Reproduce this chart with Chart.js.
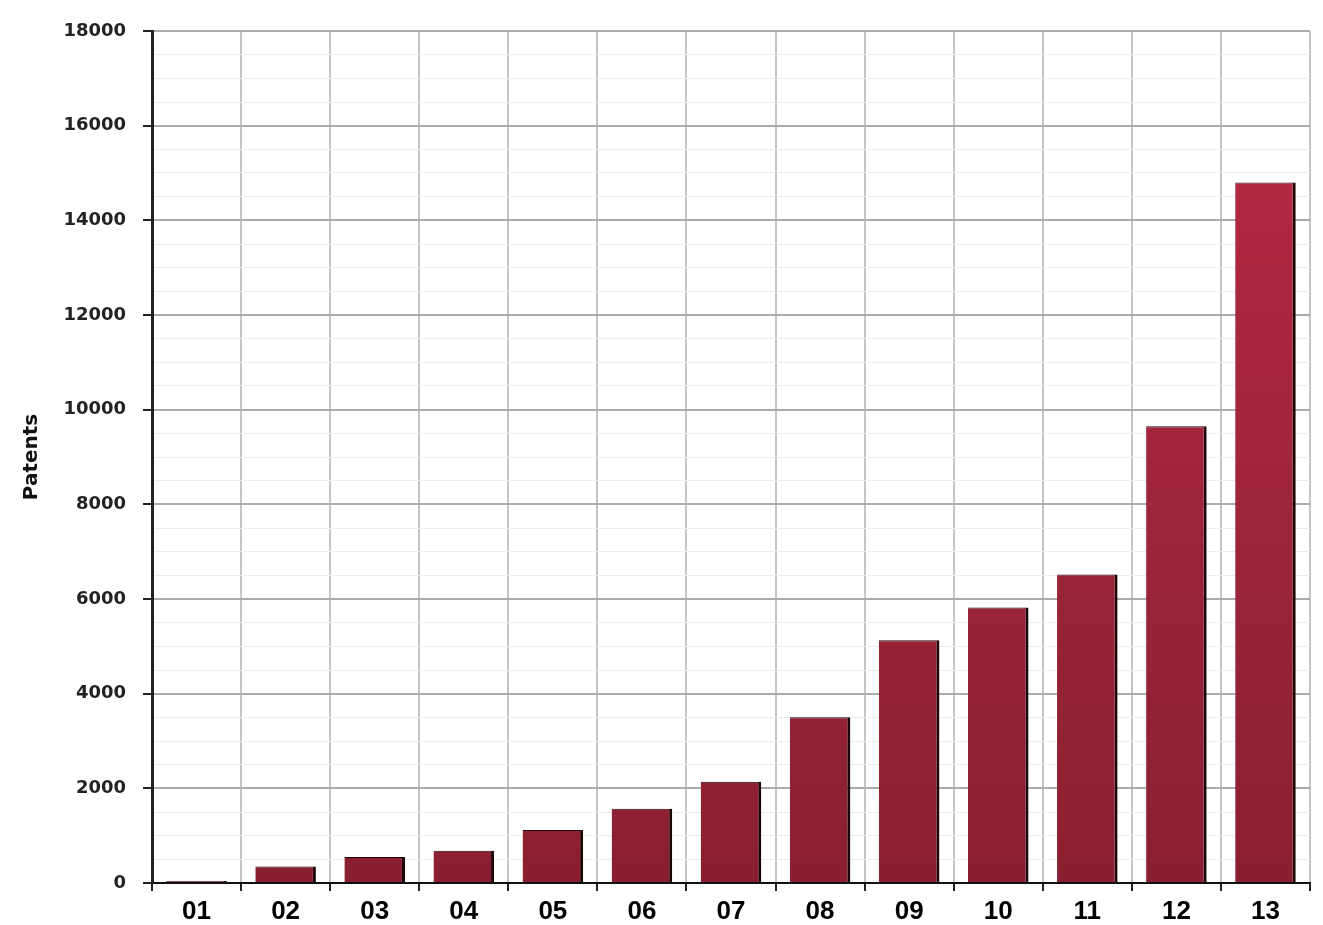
<!DOCTYPE html>
<html>
<head>
<meta charset="utf-8">
<script src="https://cdn.jsdelivr.net/npm/chart.js@4/dist/chart.umd.min.js"></script>
<style>
  html, body { margin: 0; padding: 0; background: #ffffff; }
  #wrap { position: relative; width: 1323px; height: 925px; }
</style>
</head>
<body>
<div id="wrap"><canvas id="patents_chart"></canvas></div>
<script>
// years (labels on x axis) and patent counts
var years = ['01', '02', '03', '04', '05', '06', '07', '08', '09', '10', '11', '12', '13'];
var patents = [40, 350, 550, 680, 1120, 1570, 2140, 3500, 5130, 5820, 6520, 9650, 14800];

const Y_MIN = 0;
const Y_MAX = 18000;
const Y_STEP = 500;       // minor grid
const Y_LABEL_STEP = 2000; // labelled ticks

function barFill(c) {
    var chart = c.chart;
    var area = chart.chartArea;
    if (!area) return '#a0263b';
    var g = chart.ctx.createLinearGradient(0, area.top, 0, area.bottom);
    g.addColorStop(0, '#b72b45');
    g.addColorStop(1, '#8a1f31');
    return g;
}

var ctx_p = document.getElementById('patents_chart').getContext('2d');
var chart = new Chart(ctx_p, {
    type: 'bar',
    data: {
        labels: years,
        datasets: [{
            label: 'Patents',
            data: patents,
            backgroundColor: barFill,
            borderColor: '#1e0709',
            borderWidth: { top: 1, right: 3, bottom: 0, left: 0 },
            borderSkipped: false,
            barPercentage: 0.68,
            categoryPercentage: 1.0
        }]
    },
    options: {
        responsive: true,
        maintainAspectRatio: false,
        animation: false,
        layout: { padding: { top: 31, right: 13, bottom: 0, left: 0 } },
        plugins: {
            legend: { display: false },
            tooltip: { enabled: false }
        },
        scales: {
            x: {
                grid: {
                    offset: true,
                    color: '#c4c4c4',
                    lineWidth: 2,
                    tickLength: 8,
                    tickColor: '#222'
                },
                border: { color: '#111', width: 2 },
                ticks: {
                    color: '#000',
                    padding: 5,
                    font: { family: 'Liberation Sans', size: 26, weight: 'bold' }
                },
                afterFit: function(scale) { scale.height = 42; }
            },
            y: {
                min: Y_MIN,
                max: Y_MAX,
                title: {
                    display: true,
                    text: 'Patents',
                    color: '#111',
                    padding: { top: 20, bottom: 0 },
                    font: { family: 'DejaVu Sans', size: 20, weight: 'bold' }
                },
                grid: {
                    color: function(c) {
                        return (c.tick && c.tick.value % Y_LABEL_STEP === 0) ? '#ababab' : '#ececec';
                    },
                    lineWidth: function(c) {
                        return (c.tick && c.tick.value % Y_LABEL_STEP === 0) ? 2 : 1;
                    },
                    tickLength: 9,
                    tickColor: function(c) {
                        return (c.tick && c.tick.value % Y_LABEL_STEP === 0) ? '#222' : 'rgba(0,0,0,0)';
                    }
                },
                border: { color: '#222', width: 3 },
                ticks: {
                    stepSize: Y_STEP,
                    autoSkip: false,
                    color: '#222',
                    padding: 17,
                    font: { family: 'DejaVu Sans', size: 18, weight: 'bold' },
                    callback: function(v) {
                        return v % Y_LABEL_STEP === 0 ? String(v) : '';
                    }
                },
                afterFit: function(scale) { scale.width = 152; }
            }
        }
    }
});
</script>
</body>
</html>
